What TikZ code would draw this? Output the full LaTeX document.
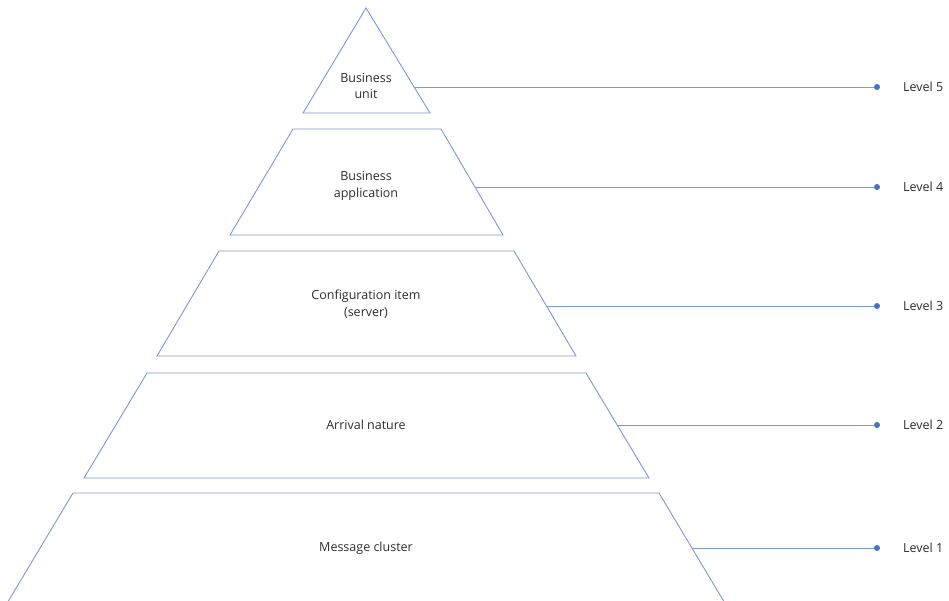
\documentclass[tikz,border=0pt]{standalone}
\usepackage{fontspec}
\setmainfont{Open Sans}
\definecolor{edgeblue}{RGB}{122,152,218}
\definecolor{dotblue}{RGB}{68,114,196}
\definecolor{txtgray}{RGB}{45,45,45}
\begin{document}
\begin{tikzpicture}[x=1pt,y=-1pt]
\tikzstyle{level}=[draw=edgeblue,line width=0.9pt]
\tikzstyle{lbl}=[text=txtgray,font=\fontsize{12.5}{16.5}\selectfont,align=center]
\tikzstyle{pin}=[circle,fill=dotblue,inner sep=0pt,minimum size=6pt]
\tikzstyle{tie}=[draw=edgeblue,line width=0.9pt]
\useasboundingbox (0,0) rectangle (949,601);
\begin{scope}
\clip (0,0) rectangle (949,601);
% the five levels, top to bottom
\draw[level] (366,8) -- (430,113) -- (303,113) -- cycle;
\draw[level] (293,129) -- (441,129) -- (503,235) -- (230,235) -- cycle;
\draw[level] (219,251) -- (514,251) -- (576,356) -- (157,356) -- cycle;
\draw[level] (147,373) -- (586,373) -- (649,478) -- (84,478) -- cycle;
\draw[level] (73,493) -- (659,493) -- (729,610) -- (3,610) -- cycle;
\end{scope}
\node[lbl] (n5) at (366,86) {Business\\unit};
\node[lbl] (n4) at (366,186) {Business\\application};
\node[lbl] (n3) at (366,304) {Configuration item\\(server)};
\node[lbl] (n2) at (366,425) {Arrival nature};
\node[lbl] (n1) at (366,548) {Message cluster};
% points on the right sides
\coordinate (s5) at (414,87);
\coordinate (s4) at (475,187);
\coordinate (s3) at (546,306);
\coordinate (s2) at (617,425);
\coordinate (s1) at (692,548);
\foreach \i/\y in {5/87,4/187,3/306,2/425,1/548}{
  \node[pin] (d\i) at (877,\y) {};
  \node[lbl,anchor=west,inner sep=0pt] (l\i) at (903,\y) {Level \i};
  \draw[tie] (s\i) -- (d\i);
}
\end{tikzpicture}
\end{document}
